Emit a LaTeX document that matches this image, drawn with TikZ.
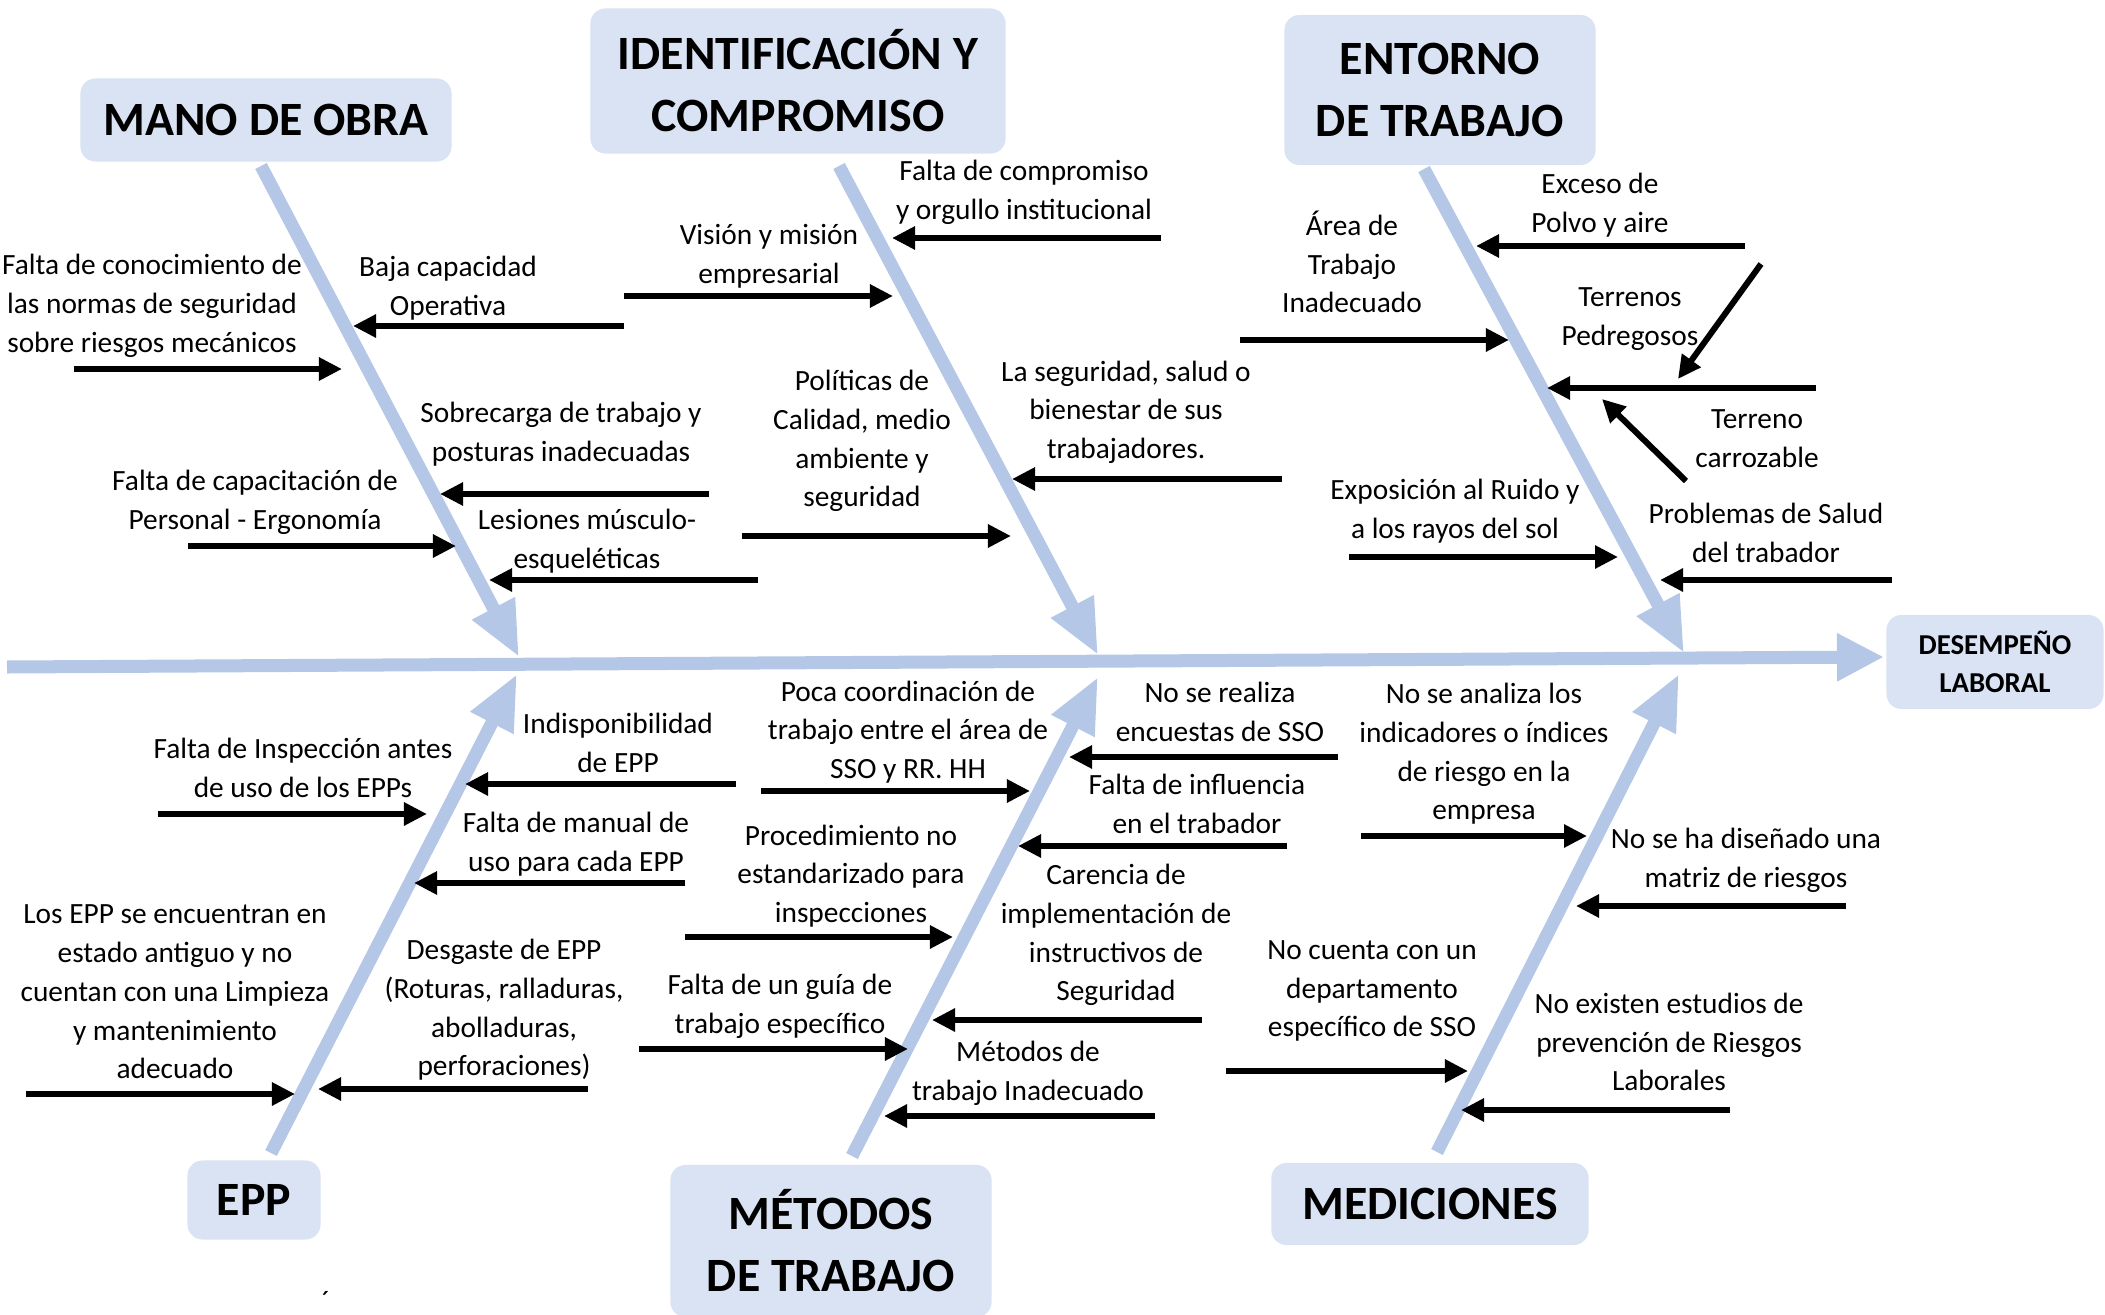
\documentclass[tikz,border=0pt]{standalone}
\usepackage{fontspec}
\setmainfont{Carlito}
\usetikzlibrary{arrows.meta}
\definecolor{bone}{HTML}{B4C7E7}
\definecolor{boxfill}{HTML}{DAE3F3}

\begin{document}
\begin{tikzpicture}[
            x = 0.01cm, y = -0.01cm, % pixel grid
            bone/.style = {draw = bone, line width = 0.13cm, -{Triangle[length = 0.55cm, width = 0.45cm]}},
            cause/.style = {draw = black, line width = 0.06cm, -{Triangle[length = 0.23cm, width = 0.22cm]}},
            lbl/.style = {font = \fontsize{8.35}{11}\selectfont, align = center, inner sep = 0pt}
        ]

        \tikzstyle{cat}=[
            fill = boxfill,
            rounded corners = 0.15cm,
            align = center,
            inner sep = 0pt,
            font = \fontsize{13.6}{17.6}\selectfont\bfseries
        ]

        \useasboundingbox (0,0) rectangle (2105,1315);

        % categories
        \node[cat, minimum width = 3.71cm, minimum height = 0.83cm] (mo) at (266,120) {MANO DE OBRA};
        \node[cat, minimum width = 4.15cm, minimum height = 1.45cm] (id) at (798,81) {IDENTIFICACIÓN Y\\COMPROMISO};
        \node[cat, minimum width = 3.11cm, minimum height = 1.50cm] (en) at (1440,90) {ENTORNO\\DE TRABAJO};
        \node[cat, minimum width = 1.33cm, minimum height = 0.79cm] (epp) at (254,1200) {EPP};
        \node[cat, minimum width = 3.21cm, minimum height = 1.52cm] (met) at (831,1241) {MÉTODOS\\DE TRABAJO};
        \node[cat, minimum width = 3.17cm, minimum height = 0.82cm] (med) at (1430,1204) {MEDICIONES};
        \node[cat, minimum width = 2.17cm, minimum height = 0.94cm, font = \fontsize{8.2}{11}\selectfont\bfseries] (des) at (1995,662) {DESEMPEÑO\\LABORAL};

        % spine and bones
        \coordinate (s0) at (7,667);
        \coordinate (s1) at (1884,657);
        \draw[bone, -{Triangle[length = 0.47cm, width = 0.45cm]}] (s0) -- (s1);

        \coordinate (mo0) at (261,166);   \coordinate (mo1) at (519,657);
        \coordinate (id0) at (839,166);   \coordinate (id1) at (1098,655);
        \coordinate (en0) at (1424,169);  \coordinate (en1) at (1684,653);
        \coordinate (epp0) at (271,1153); \coordinate (epp1) at (517,674);
        \coordinate (met0) at (852,1156); \coordinate (met1) at (1098,677);
        \coordinate (med0) at (1437,1152);\coordinate (med1) at (1679,674);
        \foreach \b in {mo, id, en, epp, met, med}
            \draw[bone] (\b0) -- (\b1);

        % mano de obra
        \node[lbl] (a1) at (448,288) {Baja capacidad\\Operativa};
        \node[lbl] (a2) at (152,306) {Falta de conocimiento de\\las normas de seguridad\\sobre riesgos mecánicos};
        \node[lbl] (a3) at (561,434) {Sobrecarga de trabajo y\\posturas inadecuadas};
        \node[lbl] (a4) at (255,502) {Falta de capacitación de\\Personal - Ergonomía};
        \node[lbl] (a5) at (587,541) {Lesiones músculo-\\esqueléticas};
        \coordinate (a1s) at (624,326); \coordinate (a1e) at (353,326);
        \coordinate (a2s) at (74,369);  \coordinate (a2e) at (342,369);
        \coordinate (a3s) at (709,494); \coordinate (a3e) at (440,494);
        \coordinate (a4s) at (188,546); \coordinate (a4e) at (456,546);
        \coordinate (a5s) at (758,580); \coordinate (a5e) at (489,580);

        % identificacion y compromiso
        \node[lbl] (b1) at (1024,192) {Falta de compromiso\\y orgullo institucional};
        \node[lbl] (b2) at (769,256) {Visión y misión\\empresarial};
        \node[lbl] (b3) at (1126,412) {La seguridad, salud o\\bienestar de sus\\trabajadores.};
        \node[lbl] (b4) at (862,441) {Políticas de\\Calidad, medio\\ambiente y\\seguridad};
        \coordinate (b1s) at (1161,238); \coordinate (b1e) at (892,238);
        \coordinate (b2s) at (624,296);  \coordinate (b2e) at (893,296);
        \coordinate (b3s) at (1282,479); \coordinate (b3e) at (1012,479);
        \coordinate (b4s) at (742,536);  \coordinate (b4e) at (1011,536);

        % entorno de trabajo
        \node[lbl] (c1) at (1600,205) {Exceso de\\Polvo y aire};
        \node[lbl] (c2) at (1352,262) {Área de\\Trabajo\\Inadecuado};
        \node[lbl] (c3) at (1630,319) {Terrenos\\Pedregosos};
        \node[lbl] (c5) at (1757,439) {Terreno\\carrozable};
        \node[lbl] (c6) at (1455,511) {Exposición al Ruido y\\a los rayos del sol};
        \node[lbl] (c7) at (1766,533) {Problemas de Salud\\del trabador};
        \coordinate (c1s) at (1745,246); \coordinate (c1e) at (1476,246);
        \coordinate (c2s) at (1240,340); \coordinate (c2e) at (1509,340);
        \coordinate (c3s) at (1816,388); \coordinate (c3e) at (1547,388);
        \coordinate (c4s) at (1761,264); \coordinate (c4e) at (1678,379);
        \coordinate (c5s) at (1686,481); \coordinate (c5e) at (1602,399);
        \coordinate (c6s) at (1349,557); \coordinate (c6e) at (1618,557);
        \coordinate (c7s) at (1892,580); \coordinate (c7e) at (1660,580);

        % epp
        \node[lbl] (d1) at (618,743) {Indisponibilidad\\de EPP};
        \node[lbl] (d2) at (303,768) {Falta de Inspección antes\\de uso de los EPPs};
        \node[lbl] (d3) at (576,844) {Falta de manual de\\uso para cada EPP};
        \node[lbl] (d4) at (175,992) {Los EPP se encuentran en\\estado antiguo y no\\cuentan con una Limpieza\\y mantenimiento\\adecuado};
        \node[lbl] (d5) at (504,1010) {Desgaste de EPP\\(Roturas, ralladuras,\\abolladuras,\\perforaciones)};
        \node[lbl] (acc) at (326,1301) {´};
        \coordinate (d1s) at (736,784);  \coordinate (d1e) at (465,784);
        \coordinate (d2s) at (158,814);  \coordinate (d2e) at (427,814);
        \coordinate (d3s) at (685,883);  \coordinate (d3e) at (414,883);
        \coordinate (d4s) at (26,1094);  \coordinate (d4e) at (295,1094);
        \coordinate (d5s) at (588,1089); \coordinate (d5e) at (318,1089);

        % metodos de trabajo
        \node[lbl] (e1) at (908,732) {Poca coordinación de\\trabajo entre el área de\\SSO y RR. HH};
        \node[lbl] (e2) at (1220,712) {No se realiza\\encuestas de SSO};
        \node[lbl] (e3) at (1197,804) {Falta de influencia\\en el trabador};
        \node[lbl] (e4) at (851,876) {Procedimiento no\\estandarizado para\\inspecciones};
        \node[lbl] (e5) at (1116,935) {Carencia de\\implementación de\\instructivos de\\Seguridad};
        \node[lbl] (e6) at (780,1006) {Falta de un guía de\\trabajo específico};
        \node[lbl] (e7) at (1028,1073) {Métodos de\\trabajo Inadecuado};
        \coordinate (e1s) at (761,791);   \coordinate (e1e) at (1030,791);
        \coordinate (e2s) at (1338,757);  \coordinate (e2e) at (1069,757);
        \coordinate (e3s) at (1287,846);  \coordinate (e3e) at (1018,846);
        \coordinate (e4s) at (685,937);   \coordinate (e4e) at (953,937);
        \coordinate (e5s) at (1202,1020); \coordinate (e5e) at (932,1020);
        \coordinate (e6s) at (639,1049);  \coordinate (e6e) at (908,1049);
        \coordinate (e7s) at (1155,1116); \coordinate (e7e) at (884,1116);

        % mediciones
        \node[lbl] (f1) at (1484,754) {No se analiza los\\indicadores o índices\\de riesgo en la\\empresa};
        \node[lbl] (f2) at (1746,860) {No se ha diseñado una\\matriz de riesgos};
        \node[lbl] (f3) at (1372,991) {No cuenta con un\\departamento\\específico de SSO};
        \node[lbl] (f4) at (1669,1042) {No existen estudios de\\prevención de Riesgos\\Laborales};
        \coordinate (f1s) at (1361,836);  \coordinate (f1e) at (1587,836);
        \coordinate (f2s) at (1846,906);  \coordinate (f2e) at (1576,906);
        \coordinate (f3s) at (1226,1071); \coordinate (f3e) at (1468,1071);
        \coordinate (f4s) at (1730,1110); \coordinate (f4e) at (1461,1110);

        \foreach \c in {a1, a2, a3, a4, a5, b1, b2, b3, b4, c1, c2, c3, c4, c5, c6, c7,
                        d1, d2, d3, d4, d5, e1, e2, e3, e4, e5, e6, e7, f1, f2, f3, f4}
            \draw[cause] (\c s) -- (\c e);
    \end{tikzpicture}
\end{document}
